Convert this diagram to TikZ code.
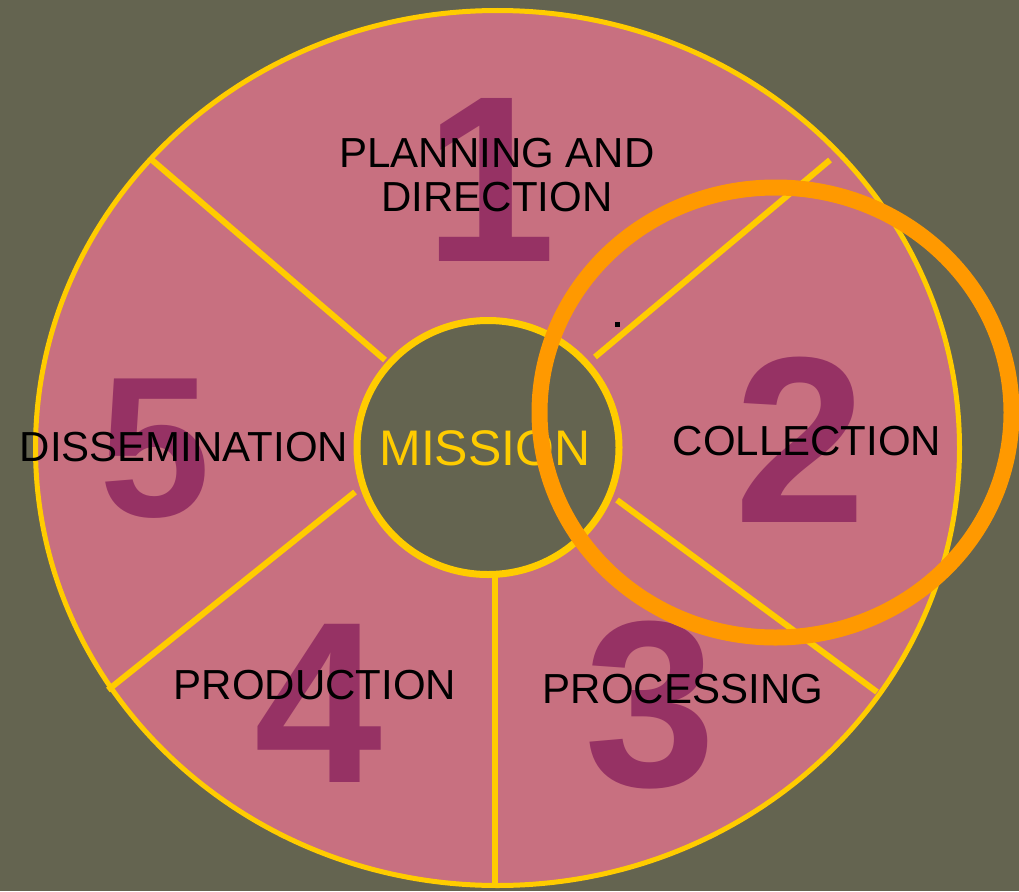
\documentclass[tikz,border=0pt]{standalone}
\usepackage{fontspec}
\setmainfont{Liberation Sans}
\definecolor{bgcol}{RGB}{100,100,80}
\definecolor{pinkcol}{RGB}{200,112,128}
\definecolor{ringyellow}{RGB}{255,204,0}
\definecolor{ringorange}{RGB}{255,153,0}
\definecolor{numcol}{RGB}{150,50,100}
\begin{document}
\begin{tikzpicture}[x=1pt,y=-1pt,
  spoke/.style={draw=ringyellow,line width=6pt},
  bignum/.style={inner sep=0pt,text=numcol,font=\bfseries\fontsize{#1}{#1}\selectfont},
  label/.style={inner sep=0pt,text=black,font=\fontsize{42}{44}\selectfont,align=center}]
\useasboundingbox (0,0) rectangle (1019,891);
\fill[bgcol] (0,0) rectangle (1019,891);
% outer disc
\coordinate (oc) at (497.5,448);
\coordinate (ic) at (488,447.5);
\fill[pinkcol] (oc) ellipse [x radius=462pt, y radius=437.5pt];
% big numbers
\node[bignum=237] (n1) at (490,180) {1};
\node[bignum=237] (n2) at (800,440) {2};
\node[bignum=237] (n3) at (650,705) {3};
\node[bignum=230] (n4) at (318,703) {4};
\node[bignum=200] (n5) at (155,449) {5};
% spokes
\coordinate (s1o) at (152,160); \coordinate (s1i) at (385,360);
\coordinate (s2o) at (830,160); \coordinate (s2i) at (595,357);
\coordinate (s3o) at (877,692); \coordinate (s3i) at (617,500);
\coordinate (s4o) at (495,888); \coordinate (s4i) at (495,575);
\coordinate (s5o) at (108,690); \coordinate (s5i) at (355,492);
\draw[spoke] (s1o) -- (s1i);
\draw[spoke] (s2o) -- (s2i);
\draw[spoke] (s3o) -- (s3i);
\draw[spoke] (s4o) -- (s4i);
\draw[spoke] (s5o) -- (s5i);
% inner disc
\filldraw[fill=bgcol,draw=ringyellow,line width=7pt] (ic) ellipse [x radius=131pt, y radius=127pt];
% outer rim
\draw[ringyellow,line width=5pt] (oc) ellipse [x radius=462pt, y radius=437.5pt];
% labels
\node[label] (l1) at (497,175) {PLANNING AND\\DIRECTION};
\node[label] (l2) at (807,441) {COLLECTION};
\node[label] (l3) at (683,689) {PROCESSING};
\node[label] (l4) at (315,685) {PRODUCTION};
\node[label] (l5) at (184,447) {DISSEMINATION};
\node[inner sep=0pt,text=ringyellow,font=\fontsize{50}{50}\selectfont] (m) at (485,448) {MISSION};
% stray dot
\fill[black] (615,322) rectangle (620,327);
% orange highlight ring
\draw[ringorange,line width=16pt] (775.5,412.5) ellipse [x radius=236pt, y radius=225pt];
\end{tikzpicture}
\end{document}
